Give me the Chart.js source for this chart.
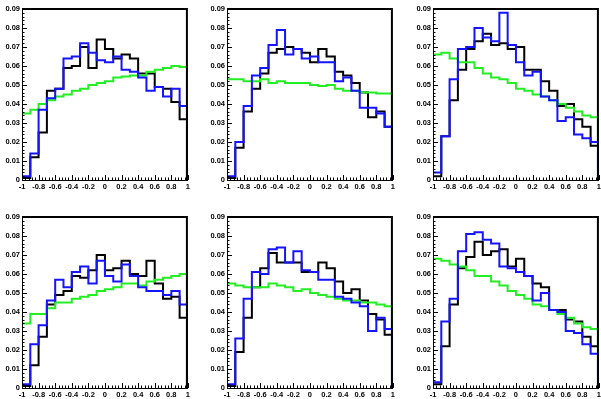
<!DOCTYPE html>
<html>
<head>
<meta charset="utf-8">
<script src="https://cdn.jsdelivr.net/npm/chart.js@4/dist/chart.umd.min.js"></script>
<style>
  html, body { margin: 0; padding: 0; background: #fff; overflow: hidden; }
  body { width: 601px; height: 399px; position: relative; }
  .panel { position: absolute; width: 192px; height: 196px; }
</style>
</head>
<body>
<div class="panel" style="left:0px;top:0px"><canvas id="c1" width="192" height="196"></canvas></div>
<div class="panel" style="left:205px;top:0px"><canvas id="c2" width="192" height="196"></canvas></div>
<div class="panel" style="left:411px;top:0px"><canvas id="c3" width="192" height="196"></canvas></div>
<div class="panel" style="left:0px;top:208px"><canvas id="c4" width="192" height="196"></canvas></div>
<div class="panel" style="left:205px;top:208px"><canvas id="c5" width="192" height="196"></canvas></div>
<div class="panel" style="left:411px;top:208px"><canvas id="c6" width="192" height="196"></canvas></div>
<script>
// bins: 20 bins from -1 to 1, low edges
const binLow = [-1, -0.9, -0.8, -0.7, -0.6, -0.5, -0.4, -0.3, -0.2, -0.1, 0, 0.1, 0.2, 0.3, 0.4, 0.5, 0.6, 0.7, 0.8, 0.9];

const xTicks = [-1, -0.8, -0.6, -0.4, -0.2, 0, 0.2, 0.4, 0.6, 0.8, 1];
const xTickLabels = ['-1', '-0.8', '-0.6', '-0.4', '-0.2', '0', '0.2', '0.4', '0.6', '0.8', '1'];
const yTicks = [0, 0.01, 0.02, 0.03, 0.04, 0.05, 0.06, 0.07, 0.08, 0.09];
const yTickLabels = ['0', '0.01', '0.02', '0.03', '0.04', '0.05', '0.06', '0.07', '0.08', '0.09'];

// panel 1 (top left)
const p1Black = [0.001, 0.012, 0.025, 0.047, 0.048, 0.059, 0.060, 0.070, 0.059, 0.074, 0.069, 0.064, 0.066, 0.064, 0.056, 0.056, 0.049, 0.048, 0.041, 0.032];
const p1Blue = [0.002, 0.014, 0.037, 0.043, 0.048, 0.064, 0.065, 0.072, 0.067, 0.063, 0.062, 0.065, 0.058, 0.057, 0.054, 0.047, 0.049, 0.044, 0.048, 0.039];
const p1Green = [0.035, 0.037, 0.040, 0.042, 0.044, 0.045, 0.047, 0.048, 0.050, 0.051, 0.052, 0.054, 0.0545, 0.055, 0.055, 0.057, 0.058, 0.059, 0.060, 0.0595];

// panel 2 (top middle)
const p2Black = [0.001, 0.017, 0.036, 0.048, 0.056, 0.067, 0.069, 0.070, 0.069, 0.067, 0.062, 0.069, 0.065, 0.057, 0.055, 0.051, 0.046, 0.033, 0.036, 0.028];
const p2Blue = [0.002, 0.020, 0.039, 0.055, 0.059, 0.071, 0.079, 0.066, 0.069, 0.064, 0.065, 0.062, 0.062, 0.052, 0.054, 0.047, 0.038, 0.038, 0.035, 0.028];
const p2Green = [0.053, 0.053, 0.052, 0.052, 0.053, 0.051, 0.052, 0.051, 0.051, 0.051, 0.050, 0.0495, 0.050, 0.048, 0.047, 0.047, 0.046, 0.046, 0.0455, 0.0455];

// panel 3 (top right)
const p3Black = [0.002, 0.023, 0.042, 0.058, 0.069, 0.073, 0.077, 0.071, 0.072, 0.069, 0.070, 0.058, 0.058, 0.052, 0.047, 0.039, 0.040, 0.032, 0.028, 0.018];
const p3Blue = [0.004, 0.023, 0.053, 0.069, 0.070, 0.080, 0.075, 0.073, 0.088, 0.071, 0.062, 0.055, 0.057, 0.044, 0.042, 0.031, 0.033, 0.024, 0.022, 0.020];
const p3Green = [0.066, 0.067, 0.064, 0.062, 0.062, 0.059, 0.056, 0.054, 0.053, 0.051, 0.048, 0.047, 0.045, 0.044, 0.042, 0.040, 0.038, 0.036, 0.034, 0.033];

// panel 4 (bottom left)
const p4Black = [0.001, 0.012, 0.027, 0.044, 0.049, 0.051, 0.059, 0.058, 0.062, 0.070, 0.062, 0.063, 0.067, 0.060, 0.059, 0.067, 0.055, 0.047, 0.048, 0.037];
const p4Blue = [0.002, 0.023, 0.033, 0.046, 0.057, 0.053, 0.061, 0.064, 0.055, 0.067, 0.059, 0.056, 0.065, 0.059, 0.053, 0.051, 0.051, 0.049, 0.051, 0.044];
const p4Green = [0.034, 0.039, 0.039, 0.042, 0.045, 0.045, 0.047, 0.048, 0.049, 0.051, 0.052, 0.053, 0.055, 0.055, 0.054, 0.056, 0.057, 0.058, 0.059, 0.060];

// panel 5 (bottom middle)
const p5Black = [0.001, 0.019, 0.037, 0.053, 0.063, 0.071, 0.066, 0.066, 0.066, 0.061, 0.061, 0.066, 0.063, 0.056, 0.050, 0.052, 0.046, 0.039, 0.036, 0.028];
const p5Blue = [0.002, 0.026, 0.047, 0.061, 0.060, 0.073, 0.074, 0.066, 0.072, 0.062, 0.061, 0.057, 0.057, 0.048, 0.047, 0.045, 0.043, 0.030, 0.037, 0.031];
const p5Green = [0.055, 0.054, 0.053, 0.053, 0.053, 0.055, 0.054, 0.053, 0.051, 0.052, 0.050, 0.049, 0.048, 0.047, 0.046, 0.046, 0.045, 0.045, 0.044, 0.043];

// panel 6 (bottom right)
const p6Black = [0.002, 0.022, 0.044, 0.063, 0.069, 0.077, 0.070, 0.072, 0.073, 0.064, 0.068, 0.059, 0.055, 0.053, 0.041, 0.041, 0.036, 0.035, 0.027, 0.022];
const p6Blue = [0.003, 0.035, 0.047, 0.072, 0.081, 0.082, 0.078, 0.076, 0.064, 0.063, 0.061, 0.059, 0.046, 0.050, 0.041, 0.040, 0.030, 0.029, 0.023, 0.018];
const p6Green = [0.068, 0.067, 0.065, 0.064, 0.062, 0.059, 0.059, 0.056, 0.054, 0.051, 0.049, 0.047, 0.044, 0.043, 0.041, 0.039, 0.037, 0.034, 0.032, 0.031];

const panels = [
    ['c1', p1Black, p1Blue, p1Green],
    ['c2', p2Black, p2Blue, p2Green],
    ['c3', p3Black, p3Blue, p3Green],
    ['c4', p4Black, p4Blue, p4Green],
    ['c5', p5Black, p5Blue, p5Green],
    ['c6', p6Black, p6Blue, p6Green]
];

// histogram outline: starts and ends at zero like ROOT
function histPoints(vals) {
    let pts = [{ x: -1, y: 0 }];
    binLow.forEach((x, i) => pts.push({ x: x, y: vals[i] }));
    pts.push({ x: 1, y: vals[vals.length - 1] });
    pts.push({ x: 1, y: 0 });
    return pts;
}

function histSet(vals, color, order) {
    return {
        data: histPoints(vals),
        borderColor: color,
        borderWidth: 2,
        pointRadius: 0,
        stepped: true,
        fill: false,
        order: order
    };
}

// frame + inward ticks, ROOT style
const rootFrame = {
    id: 'rootFrame',
    afterDatasetsDraw(chart) {
        const c = chart.ctx;
        const a = chart.chartArea;
        const xs = chart.scales.x;
        const ys = chart.scales.y;
        c.save();
        c.strokeStyle = '#000';
        c.lineWidth = 1;
        c.beginPath();
        // minor ticks on x every 0.04
        for (let i = 0; i <= 50; i++) {
            let px = Math.round(xs.getPixelForValue(-1 + i * 0.04)) + 0.5;
            let len = (i % 5 === 0) ? 5 : 2.5;
            c.moveTo(px, a.bottom);
            c.lineTo(px, a.bottom - len);
        }
        // minor ticks on y every 0.002
        for (let i = 0; i <= 45; i++) {
            let py = Math.round(ys.getPixelForValue(i * 0.002)) + 0.5;
            let len = (i % 5 === 0) ? 5 : 2.5;
            c.moveTo(a.left, py);
            c.lineTo(a.left + len, py);
        }
        c.stroke();
        // thin left and bottom
        c.beginPath();
        c.moveTo(a.left + 0.5, a.top);
        c.lineTo(a.left + 0.5, a.bottom + 0.5);
        c.lineTo(a.right, a.bottom + 0.5);
        c.stroke();
        // heavier top and right
        c.lineWidth = 2;
        c.beginPath();
        c.moveTo(a.left, a.top);
        c.lineTo(a.right - 1, a.top);
        c.lineTo(a.right - 1, a.bottom + 1);
        c.stroke();
        c.restore();
    }
};

const tickFont = { family: 'Liberation Sans', size: 7.5, weight: 'bold' };

panels.forEach(p => {
    new Chart(document.getElementById(p[0]), {
        type: 'line',
        data: {
            datasets: [
                histSet(p[1], '#000000', 2),
                histSet(p[2], '#1414ff', 0),
                histSet(p[3], '#22ee22', 1)
            ]
        },
        options: {
            responsive: false,
            animation: false,
            maintainAspectRatio: false,
            layout: { padding: { top: 9, right: 2, left: 0, bottom: 0 } },
            scales: {
                x: {
                    type: 'linear',
                    min: -1,
                    max: 1,
                    grid: { display: false, drawTicks: false },
                    border: { display: false },
                    afterBuildTicks: s => { s.ticks = xTicks.map(v => ({ value: v })); },
                    afterFit: s => { s.height = 16; },
                    ticks: {
                        autoSkip: false,
                        maxRotation: 0,
                        padding: 2,
                        color: '#000',
                        font: tickFont,
                        callback: (v, i) => xTickLabels[i]
                    }
                },
                y: {
                    min: 0,
                    max: 0.09,
                    grid: { display: false, drawTicks: false },
                    border: { display: false },
                    afterBuildTicks: s => { s.ticks = yTicks.map(v => ({ value: v })); },
                    afterFit: s => { s.width = 22; },
                    ticks: {
                        autoSkip: false,
                        padding: 2,
                        color: '#000',
                        font: tickFont,
                        callback: (v, i) => yTickLabels[i]
                    }
                }
            },
            plugins: {
                legend: { display: false },
                tooltip: { enabled: false }
            }
        },
        plugins: [rootFrame]
    });
});
</script>
</body>
</html>
